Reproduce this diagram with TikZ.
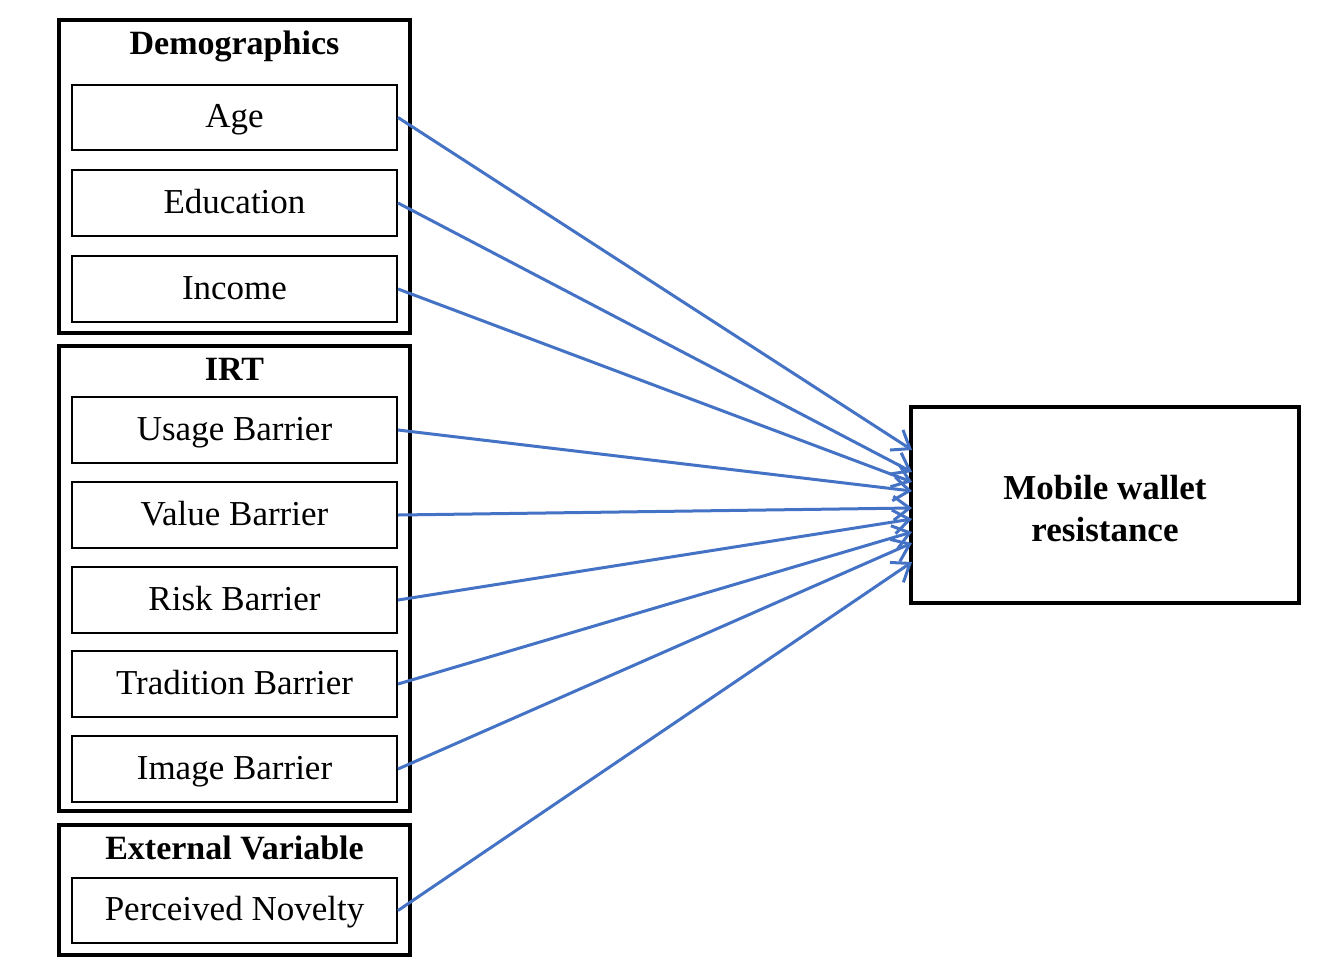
\documentclass[tikz,border=0pt]{standalone}
\usepackage{fontspec}
\setmainfont{Liberation Serif}
\usetikzlibrary{arrows.meta}
\definecolor{arrblue}{RGB}{68,114,196}
\begin{document}
\begin{tikzpicture}[x=1pt,y=-1pt,
  outer/.style={draw=black,line width=4pt,inner sep=0pt},
  inner/.style={draw=black,line width=2pt,inner sep=0pt,font=\fontsize{35}{40}\selectfont,
    text height=26pt,text depth=6pt,align=center},
  ttl/.style={font=\fontsize{34}{40}\selectfont\bfseries,text height=24pt,text depth=7pt},
  conn/.style={draw=arrblue,line width=3pt,-{Straight Barb[length=16pt,width=24pt,line width=3pt]}}]
\useasboundingbox (0,0) rectangle (1329,970);
% outer groups
\draw[outer] (59,20) rectangle (410,333);
\draw[outer] (59,346) rectangle (410,811);
\draw[outer] (59,825) rectangle (410,955);
\node[ttl] (tdemo) at (234.5,45.5) {Demographics};
\node[ttl] (tirt) at (234.5,372) {IRT};
\node[ttl] (text) at (234.5,851) {External Variable};
% inner boxes
\newcommand{\ibox}[4]{\node[inner,minimum width=325pt,minimum height=#3pt] (#1) at (234.5,#2) {#4};}
\ibox{age}{117.5}{65}{Age}
\ibox{edu}{203}{66}{Education}
\ibox{inc}{289}{66}{Income}
\ibox{usage}{430}{66}{Usage Barrier}
\ibox{value}{515}{66}{Value Barrier}
\ibox{risk}{600}{66}{Risk Barrier}
\ibox{trad}{684}{66}{Tradition Barrier}
\ibox{image}{769}{66}{Image Barrier}
\ibox{nov}{910.5}{65}{Perceived Novelty}
% target
\node[draw=black,line width=4pt,minimum width=388pt,minimum height=196pt] (mwr) at (1105,505) {};
\node[align=center,inner sep=0pt,font=\fontsize{35}{42}\selectfont\bfseries] (mwrlabel) at (1105,509) {Mobile wallet\\resistance};
% connectors
\coordinate (e1) at (912,450);
\coordinate (e2) at (912,472);
\coordinate (e3) at (912,482);
\coordinate (e4) at (912,491);
\coordinate (e5) at (912,508);
\coordinate (e6) at (912,519);
\coordinate (e7) at (912,532);
\coordinate (e8) at (912,543);
\coordinate (e9) at (912,562);
\draw[conn] (age.east) -- (e1);
\draw[conn] (edu.east) -- (e2);
\draw[conn] (inc.east) -- (e3);
\draw[conn] (usage.east) -- (e4);
\draw[conn] (value.east) -- (e5);
\draw[conn] (risk.east) -- (e6);
\draw[conn] (trad.east) -- (e7);
\draw[conn] (image.east) -- (e8);
\draw[conn] (nov.east) -- (e9);
\end{tikzpicture}
\end{document}
